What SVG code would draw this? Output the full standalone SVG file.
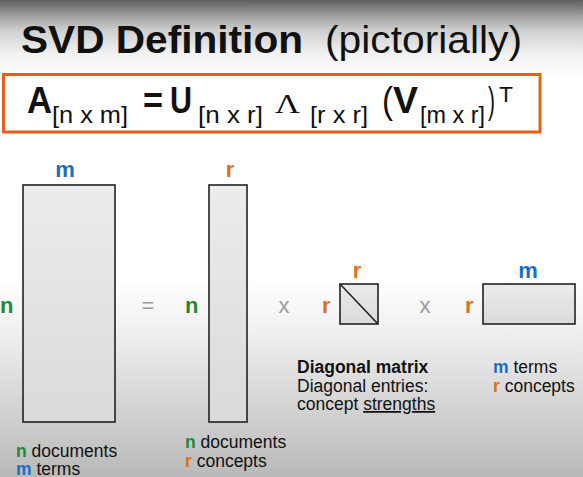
<svg xmlns="http://www.w3.org/2000/svg" width="583" height="477" viewBox="0 0 583 477">
<defs>
<linearGradient id="bg" x1="0" y1="0" x2="0" y2="1">
<stop offset="0" stop-color="#5e5e5e"/>
<stop offset="0.031" stop-color="#9a9a9a"/>
<stop offset="0.063" stop-color="#cecece"/>
<stop offset="0.115" stop-color="#f3f3f3"/>
<stop offset="0.168" stop-color="#ffffff"/>
<stop offset="0.587" stop-color="#ffffff"/>
<stop offset="0.692" stop-color="#f0f0f0"/>
<stop offset="0.839" stop-color="#d6d6d6"/>
<stop offset="1" stop-color="#b9b9b9"/>
</linearGradient>
<linearGradient id="mf" x1="0" y1="0" x2="0" y2="1">
<stop offset="0" stop-color="#ececec"/>
<stop offset="1" stop-color="#dadada"/>
</linearGradient>
<style>
.t{font-family:"Liberation Sans",Arial,sans-serif;fill:#111}
.serif{font-family:"Liberation Serif","Times New Roman",serif;fill:#111}
.b{font-weight:bold}
.sub{font-size:24px}
.mat{fill:url(#mf);stroke:#222;stroke-width:1.6}
.blue{fill:#1a6fc0}
.green{fill:#1f8a36}
.orange{fill:#d9711c}
.op{font-family:"Liberation Sans",Arial,sans-serif;fill:#9a9a9a;font-size:22px}
.lbl{font-family:"Liberation Sans",Arial,sans-serif;font-weight:bold;font-size:22px}
.cap{font-family:"Liberation Sans",Arial,sans-serif;font-size:17.5px;fill:#111}
</style>
</defs>
<rect x="0" y="0" width="583" height="477" fill="url(#bg)"/>
<g id="title">
<text class="t b" x="21" y="53" font-size="38" textLength="282" lengthAdjust="spacingAndGlyphs">SVD Definition</text>
<text class="t" x="325" y="53" font-size="38" textLength="197" lengthAdjust="spacingAndGlyphs">(pictorially)</text>
</g>
<g id="formula">
<rect x="3.5" y="74.5" width="536.5" height="57.5" fill="#ffffff" stroke="#e8601c" stroke-width="3"/>
<text class="t b" x="27" y="113" font-size="37" textLength="25" lengthAdjust="spacingAndGlyphs">A</text>
<text class="t sub" x="52" y="123" textLength="76" lengthAdjust="spacingAndGlyphs">[n x m]</text>
<text class="t b" x="143" y="113" font-size="37" textLength="20" lengthAdjust="spacingAndGlyphs">=</text>
<text class="t b" x="170" y="113" font-size="37" textLength="22" lengthAdjust="spacingAndGlyphs">U</text>
<text class="t sub" x="198" y="123" textLength="65" lengthAdjust="spacingAndGlyphs">[n x r]</text>
<text class="serif" x="275" y="113" font-size="27" textLength="25" lengthAdjust="spacingAndGlyphs">Λ</text>
<text class="t sub" x="310" y="123" textLength="58" lengthAdjust="spacingAndGlyphs">[r x r]</text>
<text class="t" x="382" y="113" font-size="37" textLength="11" lengthAdjust="spacingAndGlyphs">(</text>
<text class="t b" x="393" y="113" font-size="37" textLength="25" lengthAdjust="spacingAndGlyphs">V</text>
<text class="t sub" x="420" y="123" textLength="65" lengthAdjust="spacingAndGlyphs">[m x r]</text>
<text class="t" x="488" y="113" font-size="37" textLength="7" lengthAdjust="spacingAndGlyphs">)</text>
<text class="t" x="499" y="102" font-size="22" textLength="14" lengthAdjust="spacingAndGlyphs">T</text>
</g>
<g id="matrixA">
<rect class="mat" x="23" y="185" width="92" height="237"/>
<text class="lbl blue" x="65" y="177" text-anchor="middle">m</text>
<text class="lbl green" x="0" y="313">n</text>
<text class="cap" x="16" y="457"><tspan class="b green">n</tspan> documents</text>
<text class="cap" x="16" y="475"><tspan class="b blue">m</tspan> terms</text>
</g>
<g id="equals">
<text class="op" x="148" y="313" text-anchor="middle">=</text>
</g>
<g id="matrixU">
<rect class="mat" x="209" y="185" width="38" height="237"/>
<text class="lbl orange" x="230" y="177" text-anchor="middle">r</text>
<text class="lbl green" x="185" y="313">n</text>
<text class="cap" x="185" y="448"><tspan class="b green">n</tspan> documents</text>
<text class="cap" x="185" y="467"><tspan class="b orange">r</tspan> concepts</text>
</g>
<g id="times1">
<text class="op" x="284" y="313" text-anchor="middle">x</text>
</g>
<g id="matrixL">
<rect class="mat" x="340" y="284" width="38" height="40"/>
<line x1="340" y1="284" x2="378" y2="324" stroke="#222" stroke-width="1.6"/>
<text class="lbl orange" x="357" y="278" text-anchor="middle">r</text>
<text class="lbl orange" x="322" y="313">r</text>
<text class="cap" x="297" y="373"><tspan class="b">Diagonal matrix</tspan></text>
<text class="cap" x="297" y="392">Diagonal entries:</text>
<text class="cap" x="297" y="410">concept <tspan text-decoration="underline">strengths</tspan></text>
</g>
<g id="times2">
<text class="op" x="425" y="313" text-anchor="middle">x</text>
</g>
<g id="matrixV">
<rect class="mat" x="483" y="284" width="92" height="40"/>
<text class="lbl blue" x="528" y="278" text-anchor="middle">m</text>
<text class="lbl orange" x="465" y="313">r</text>
<text class="cap" x="493" y="373"><tspan class="b blue">m</tspan> terms</text>
<text class="cap" x="493" y="392"><tspan class="b orange">r</tspan> concepts</text>
</g>
<g id="connectors"></g>
</svg>
